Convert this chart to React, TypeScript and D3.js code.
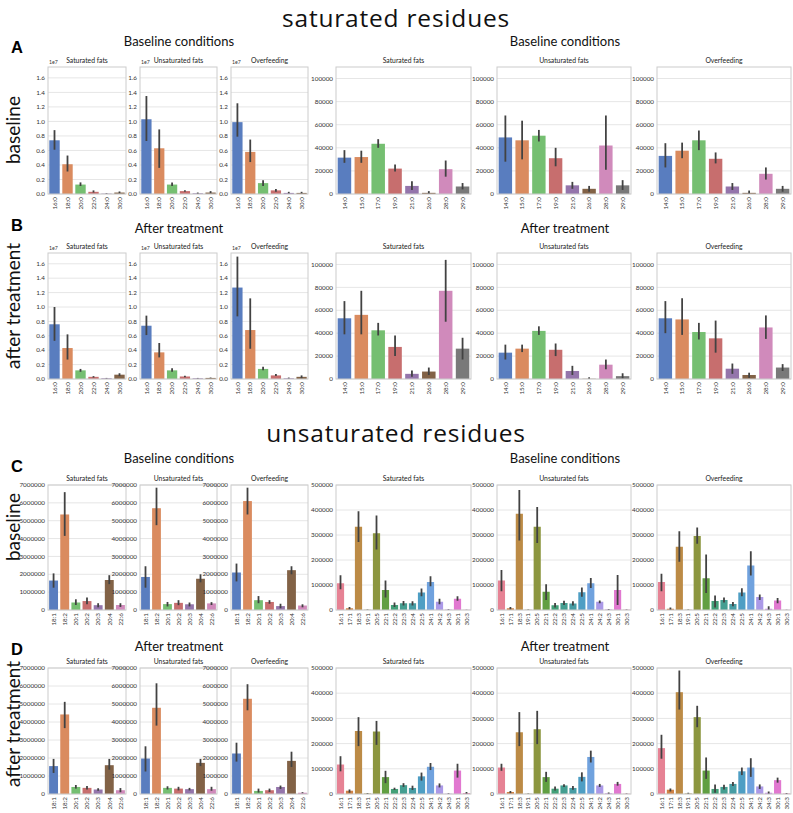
import * as d3 from "d3";
import React from "react";

const W = 793;
const H = 813;

// categories
const satCats = ["16:0", "18:0", "20:0", "22:0", "24:0", "30:0"];
const oddCats = ["14:0", "15:0", "17:0", "19:0", "21:0", "26:0", "28:0", "29:0"];
const majorCats = ["18:1", "18:2", "20:1", "20:2", "20:3", "20:4", "22:6"];
const minorCats = ["16:1", "17:1", "18:3", "19:1", "20:5", "22:1", "22:2", "22:3", "22:4", "22:5", "24:1", "24:2", "24:3", "30:1", "30:3"];

const panelTitles = ["Saturated fats", "Unsaturated fats", "Overfeeding"];

// tick labels
const e7Ticks = [0, 0.2, 0.4, 0.6, 0.8, 1.0, 1.2, 1.4, 1.6];
const oddTicks = [0, 20000, 40000, 60000, 80000, 100000];
const majorTicks = [0, 1000000, 2000000, 3000000, 4000000, 5000000, 6000000, 7000000];
const minorTicks = [0, 100000, 200000, 300000, 400000, 500000];

type T = [number, number, number]; // mean, ci low, ci high

// A: saturated residues, baseline (x1e7)
const aSat: T[] = [[0.74, 0.61, 0.88], [0.41, 0.31, 0.53], [0.13, 0.11, 0.16], [0.03, 0.02, 0.05], [0.005, 0.0, 0.01], [0.02, 0.01, 0.035]];
const aUns: T[] = [[1.03, 0.73, 1.35], [0.63, 0.36, 0.89], [0.13, 0.11, 0.16], [0.04, 0.03, 0.05], [0.01, 0.0, 0.02], [0.02, 0.01, 0.04]];
const aOvr: T[] = [[0.99, 0.79, 1.25], [0.58, 0.44, 0.75], [0.15, 0.11, 0.19], [0.05, 0.03, 0.07], [0.015, 0.005, 0.03], [0.015, 0.005, 0.03]];
const aSatOdd: T[] = [[31500, 27000, 38000], [32000, 27000, 37500], [43500, 40000, 47500], [22000, 19500, 25500], [7000, 3500, 11000], [1000, 0, 2500], [21500, 15000, 29000], [6500, 4000, 9500]];
const aUnsOdd: T[] = [[49000, 28000, 68000], [46500, 30000, 63500], [50500, 45500, 55500], [31000, 24000, 40000], [7500, 4500, 10500], [4500, 2000, 7000], [42000, 21000, 68000], [7500, 3500, 12000]];
const aOvrOdd: T[] = [[33000, 23000, 44000], [37500, 31000, 44500], [46500, 38000, 55000], [30500, 26500, 36000], [6500, 3500, 9500], [1000, 0, 3000], [17500, 12500, 23000], [4500, 2000, 7000]];

// B: saturated residues, after treatment
const bSat: T[] = [[0.76, 0.53, 1.0], [0.43, 0.27, 0.62], [0.12, 0.1, 0.14], [0.03, 0.02, 0.04], [0.01, 0.005, 0.015], [0.06, 0.04, 0.08]];
const bUns: T[] = [[0.74, 0.61, 0.88], [0.37, 0.3, 0.5], [0.12, 0.1, 0.15], [0.035, 0.025, 0.045], [0.01, 0.005, 0.015], [0.015, 0.01, 0.02]];
const bOvr: T[] = [[1.27, 0.87, 1.7], [0.68, 0.42, 1.12], [0.14, 0.12, 0.17], [0.05, 0.04, 0.07], [0.01, 0.005, 0.02], [0.03, 0.01, 0.05]];
const bSatOdd: T[] = [[53000, 39000, 68000], [56000, 39000, 77000], [42500, 38000, 49000], [28000, 20000, 38000], [4500, 2000, 7500], [6500, 3500, 10000], [77000, 50000, 104000], [26500, 17000, 36000]];
const bUnsOdd: T[] = [[23000, 17000, 30000], [26500, 23500, 30000], [42000, 38500, 46000], [25500, 20000, 31000], [7000, 3500, 11500], [200, 0, 1500], [12500, 8500, 17000], [2500, 500, 5000]];
const bOvrOdd: T[] = [[53000, 40000, 68000], [52000, 38500, 70500], [41000, 34500, 49000], [35500, 23000, 51000], [9000, 4500, 13500], [3500, 1000, 5500], [45000, 35000, 55500], [10000, 7000, 13000]];

// C: unsaturated residues, baseline
const cSat: T[] = [[1650000, 1250000, 2050000], [5350000, 4150000, 6600000], [420000, 280000, 600000], [500000, 320000, 700000], [270000, 150000, 380000], [1680000, 1450000, 1950000], [280000, 170000, 380000]];
const cUns: T[] = [[1850000, 1250000, 2450000], [5700000, 4750000, 6850000], [330000, 200000, 450000], [400000, 270000, 550000], [320000, 200000, 420000], [1750000, 1550000, 2000000], [370000, 280000, 440000]];
const cOvr: T[] = [[2100000, 1600000, 2600000], [6100000, 5350000, 6850000], [550000, 380000, 780000], [450000, 350000, 550000], [220000, 100000, 350000], [2230000, 2000000, 2450000], [250000, 150000, 320000]];
const cSatMin: T[] = [[107000, 83000, 139000], [7000, 2000, 12000], [333000, 272000, 395000], [1000, 0, 2000], [307000, 242000, 378000], [80000, 50000, 118000], [20000, 12000, 30000], [27000, 18000, 36000], [27000, 18000, 35000], [70000, 55000, 86000], [112000, 95000, 135000], [33000, 23000, 45000], [1500, 0, 3000], [45000, 37000, 55000], [500, 0, 1000]];
const cUnsMin: T[] = [[118000, 75000, 160000], [7000, 2000, 12000], [385000, 278000, 480000], [1000, 0, 2000], [333000, 268000, 412000], [73000, 40000, 103000], [19000, 10000, 28000], [28000, 20000, 37000], [26000, 18000, 35000], [71000, 53000, 90000], [107000, 88000, 128000], [33000, 27000, 38000], [2000, 0, 4000], [80000, 20000, 140000], [1000, 0, 2000]];
const cOvrMin: T[] = [[112000, 75000, 145000], [5000, 0, 10000], [253000, 193000, 315000], [1000, 0, 2000], [296000, 265000, 330000], [127000, 68000, 222000], [36000, 10000, 58000], [40000, 30000, 50000], [24000, 15000, 32000], [70000, 55000, 87000], [178000, 138000, 235000], [52000, 40000, 62000], [5000, 0, 15000], [38000, 27000, 48000], [500, 0, 1000]];

// D: unsaturated residues, after treatment
const dSat: T[] = [[1550000, 1170000, 1950000], [4420000, 3660000, 5120000], [390000, 300000, 500000], [340000, 250000, 450000], [250000, 180000, 320000], [1600000, 1350000, 1950000], [210000, 100000, 330000]];
const dUns: T[] = [[1970000, 1250000, 2650000], [4790000, 3800000, 6150000], [340000, 250000, 430000], [300000, 200000, 400000], [270000, 200000, 340000], [1730000, 1550000, 1950000], [270000, 180000, 400000]];
const dOvr: T[] = [[2250000, 1800000, 2850000], [5290000, 4650000, 6100000], [170000, 80000, 300000], [210000, 110000, 300000], [390000, 280000, 470000], [1840000, 1500000, 2350000], [70000, 40000, 100000]];
const dSatMin: T[] = [[117000, 90000, 150000], [13000, 5000, 18000], [250000, 190000, 305000], [2000, 0, 4000], [248000, 195000, 290000], [67000, 43000, 92000], [20000, 16000, 25000], [35000, 28000, 43000], [24000, 16000, 33000], [70000, 53000, 85000], [108000, 95000, 123000], [34000, 26000, 42000], [1000, 0, 3000], [93000, 65000, 120000], [4000, 0, 8000]];
const dUnsMin: T[] = [[105000, 92000, 120000], [8000, 3000, 12000], [245000, 190000, 325000], [1000, 0, 2000], [257000, 198000, 330000], [67000, 48000, 88000], [21000, 14000, 30000], [34000, 28000, 39000], [24000, 17000, 32000], [68000, 50000, 86000], [147000, 125000, 172000], [34000, 28000, 40000], [3000, 0, 6000], [40000, 33000, 48000], [1000, 0, 2000]];
const dOvrMin: T[] = [[182000, 140000, 235000], [17000, 10000, 22000], [404000, 335000, 490000], [2000, 0, 5000], [305000, 265000, 350000], [93000, 60000, 145000], [20000, 5000, 38000], [28000, 18000, 37000], [40000, 32000, 48000], [90000, 75000, 105000], [105000, 68000, 142000], [30000, 20000, 38000], [5000, 0, 10000], [55000, 45000, 65000], [2000, 0, 4000]];

// palettes
const muted = ["#4878d0", "#ee854a", "#6acc64", "#d65f5f", "#956cb4", "#8c613c", "#dc7ec0", "#797979"];
const husl = ["#f77189", "#e7802f", "#d08e32", "#b69b31", "#97a431", "#5cae33", "#33b07a", "#35ad9c", "#37aab4", "#3aa5d8", "#5ea0f0", "#a48cf4", "#cd79f3", "#f266dc", "#f56bb0"];

const desat = (c: string) => {
  const h = d3.hsl(c);
  h.s *= 0.75;
  return h.formatHex();
};

const FONT = "Lato, 'Open Sans', sans-serif";
const TICK = "#333";

const colsX: [number, number][] = [[48, 126], [140, 217], [231, 308], [336, 471], [497, 631], [657, 791]];

interface PanelProps {
  x0: number; x1: number; y0: number; y1: number;
  cats: string[]; data: T[]; palette: string[];
  ticks: number[]; yMax: number; fmt: (v: number) => string;
  title: string; exp?: boolean;
}

const Panel: React.FC<PanelProps> = ({ x0, x1, y0, y1, cats, data, palette, ticks, yMax, fmt, title, exp }) => {
  const x = d3.scaleBand<string>().domain(cats).range([x0, x1]).paddingInner(0.2).paddingOuter(0.1);
  const y = d3.scaleLinear().domain([0, yMax]).range([y1, y0]);
  return (
    <g>
      {ticks.map((t) => (
        <line key={"g" + t} x1={x0} x2={x1} y1={y(t)} y2={y(t)} stroke="#e6e6e6" strokeWidth={1} />
      ))}
      {data.map((d, i) => (
        <rect key={"b" + i} x={x(cats[i])} y={y(d[0])} width={x.bandwidth()} height={y1 - y(d[0])}
          fill={desat(palette[i % palette.length])} />
      ))}
      {data.map((d, i) => (
        <line key={"e" + i} x1={x(cats[i])! + x.bandwidth() / 2} x2={x(cats[i])! + x.bandwidth() / 2}
          y1={y(d[1])} y2={y(d[2])} stroke="#424242" strokeWidth={1.8} />
      ))}
      <rect x={x0} y={y0} width={x1 - x0} height={y1 - y0} fill="none" stroke="#cccccc" strokeWidth={1} />
      {ticks.map((t) => (
        <text key={"t" + t} x={x0 - 3} y={y(t)} dy="0.35em" textAnchor="end" fontSize={6.3} fill={TICK}>{fmt(t)}</text>
      ))}
      {cats.map((c) => (
        <text key={"c" + c} transform={`translate(${x(c)! + x.bandwidth() / 2},${y1 + 3}) rotate(-90)`}
          dy="0.35em" textAnchor="end" fontSize={6.3} fill={TICK}>{c}</text>
      ))}
      <text x={(x0 + x1) / 2} y={y0 - 4} textAnchor="middle" fontSize={6.8} fill="#222">{title}</text>
      {exp && <text x={x0 + 1} y={y0 - 3} fontSize={5.2} fill={TICK}>1e7</text>}
    </g>
  );
};

const fmt1 = (v: number) => v.toFixed(1);
const fmt0 = (v: number) => String(v);

interface RowProps {
  y0: number; y1: number;
  leftCats: string[]; rightCats: string[];
  left: T[][]; right: T[][];
  leftPal: string[]; rightPal: string[];
  leftTicks: number[]; rightTicks: number[];
  leftMax: number; rightMax: number;
  leftFmt: (v: number) => string; exp?: boolean;
}

const Row: React.FC<RowProps> = (p) => (
  <g>
    {[0, 1, 2].map((i) => (
      <Panel key={"l" + i} x0={colsX[i][0]} x1={colsX[i][1]} y0={p.y0} y1={p.y1} cats={p.leftCats}
        data={p.left[i]} palette={p.leftPal} ticks={p.leftTicks} yMax={p.leftMax} fmt={p.leftFmt}
        title={panelTitles[i]} exp={p.exp} />
    ))}
    {[0, 1, 2].map((i) => (
      <Panel key={"r" + i} x0={colsX[i + 3][0]} x1={colsX[i + 3][1]} y0={p.y0} y1={p.y1} cats={p.rightCats}
        data={p.right[i]} palette={p.rightPal} ticks={p.rightTicks} yMax={p.rightMax} fmt={fmt0}
        title={panelTitles[i]} />
    ))}
  </g>
);

interface HeaderProps { letter: string; letterY: number; label: string; y: number; side: string; sideY: number }

const Header: React.FC<HeaderProps> = ({ letter, letterY, label, y, side, sideY }) => (
  <g>
    <text x={11} y={letterY} fontFamily="'Liberation Sans', Arial, sans-serif" fontWeight="bold" fontSize={16.5} fill="#000">{letter}</text>
    <text x={179} y={y} textAnchor="middle" fontSize={13} fill="#111">{label}</text>
    <text x={565} y={y} textAnchor="middle" fontSize={13} fill="#111">{label}</text>
    <text transform={`translate(19.5,${sideY}) rotate(-90)`} textAnchor="middle" fontSize={19} fill="#111">{side}</text>
  </g>
);

const TITLE_FONT = "'Open Sans', Lato, sans-serif";

const App: React.FC = () => (
  <svg width={W} height={H} viewBox={`0 0 ${W} ${H}`} fontFamily={FONT}
    style={{ position: "absolute", left: 0, top: 0, background: "#fff" }}>
    <rect width={W} height={H} fill="#fff" />
    <text x={396} y={27} textAnchor="middle" fontSize={24.5} fontFamily={TITLE_FONT} letterSpacing={0.8} fill="#111">saturated residues</text>
    <text x={396} y={442} textAnchor="middle" fontSize={24.5} fontFamily={TITLE_FONT} letterSpacing={0.8} fill="#111">unsaturated residues</text>

    <Header letter="A" letterY={53} label="Baseline conditions" y={46} side="baseline" sideY={130} />
    <Row y0={67} y1={194} leftCats={satCats} rightCats={oddCats} left={[aSat, aUns, aOvr]} right={[aSatOdd, aUnsOdd, aOvrOdd]}
      leftPal={muted} rightPal={muted} leftTicks={e7Ticks} rightTicks={oddTicks} leftMax={1.75} rightMax={110000} leftFmt={fmt1} exp />

    <Header letter="B" letterY={231} label="After treatment" y={233} side="after treatment" sideY={306} />
    <Row y0={253} y1={379} leftCats={satCats} rightCats={oddCats} left={[bSat, bUns, bOvr]} right={[bSatOdd, bUnsOdd, bOvrOdd]}
      leftPal={muted} rightPal={muted} leftTicks={e7Ticks} rightTicks={oddTicks} leftMax={1.75} rightMax={110000} leftFmt={fmt1} exp />

    <Header letter="C" letterY={472} label="Baseline conditions" y={463} side="baseline" sideY={527} />
    <Row y0={485} y1={610} leftCats={majorCats} rightCats={minorCats} left={[cSat, cUns, cOvr]} right={[cSatMin, cUnsMin, cOvrMin]}
      leftPal={muted} rightPal={husl} leftTicks={majorTicks} rightTicks={minorTicks} leftMax={7000000} rightMax={500000} leftFmt={fmt0} />

    <Header letter="D" letterY={655} label="After treatment" y={651} side="after treatment" sideY={724} />
    <Row y0={668} y1={794} leftCats={majorCats} rightCats={minorCats} left={[dSat, dUns, dOvr]} right={[dSatMin, dUnsMin, dOvrMin]}
      leftPal={muted} rightPal={husl} leftTicks={majorTicks} rightTicks={minorTicks} leftMax={7000000} rightMax={500000} leftFmt={fmt0} />
  </svg>
);

export default App;
